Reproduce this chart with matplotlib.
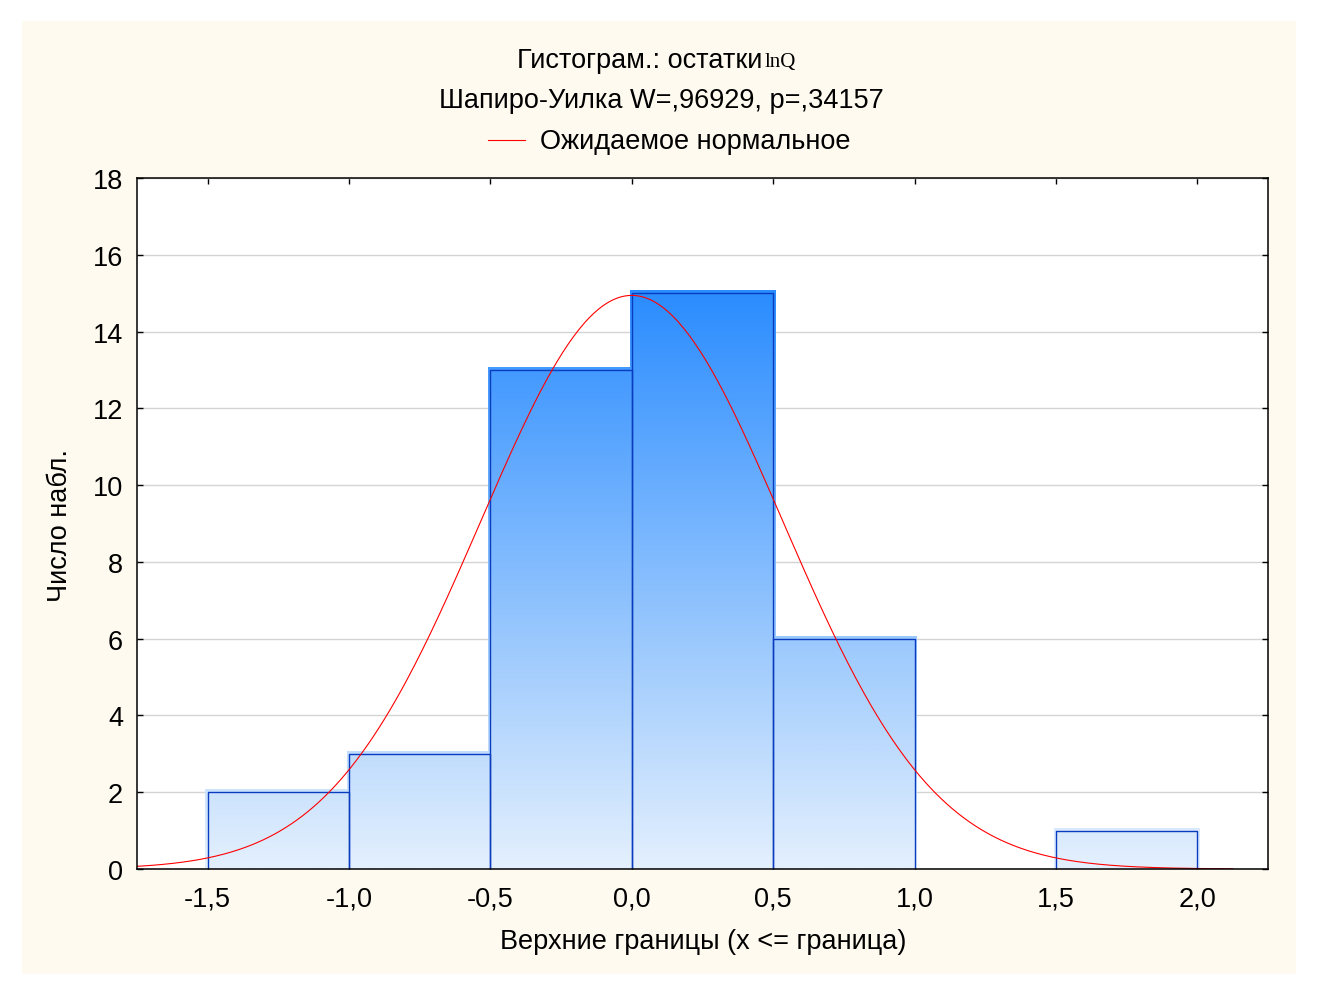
import numpy as np
import matplotlib
matplotlib.use('Agg')
from matplotlib import pyplot as plt
from matplotlib.colors import LinearSegmentedColormap

# upper bin bounds and counts
bin_lefts = [-1.5, -1.0, -0.5, 0.0, 0.5, 1.0, 1.5]
bin_counts = [2, 3, 13, 15, 6, 0, 1]
bin_width = 0.5

# expected normal curve parameters
n_obs = 40
mean_res = 0.0
sd_res = 0.534
curve_start = -1.75
curve_end = 2.125

x_ticks = [-1.5, -1.0, -0.5, 0.0, 0.5, 1.0, 1.5, 2.0]
x_ticklabels = ['-1,5', '-1,0', '-0,5', '0,0', '0,5', '1,0', '1,5', '2,0']
y_ticks = [0, 2, 4, 6, 8, 10, 12, 14, 16, 18]

W, H = 1328, 1004
FS = 19.5
plt.rcParams['font.family'] = ['Liberation Sans', 'DejaVu Sans']

fig = plt.figure(figsize=(W / 100, H / 100), dpi=100, facecolor='white')
# cream panel behind everything
panel = plt.Rectangle((22 / W, 1 - 975 / H), (1296 - 22) / W, (975 - 22) / H,
                      transform=fig.transFigure, facecolor='#fffaf0', edgecolor='none', zorder=-10)
fig.patches.append(panel)

ax = fig.add_axes([137 / W, 1 - 870 / H, (1268 - 137) / W, (870 - 179) / H])
ax.set_facecolor('white')

grad = LinearSegmentedColormap.from_list('bars', ['#e4f0fd', '#2a8cff'])
pad_x = 0.008
pad_y = 0.06
for left, cnt in zip(bin_lefts, bin_counts):
    if cnt == 0:
        continue
    right = left + bin_width
    vals = np.linspace(0, cnt, 256).reshape(-1, 1)
    ax.imshow(vals, cmap=grad, vmin=0, vmax=15, origin='lower', aspect='auto',
              extent=(left - pad_x, right + pad_x, 0, cnt + pad_y), zorder=2,
              interpolation='bilinear')
    ax.plot([left, left, right, right], [0, cnt, cnt, 0], color='#0a3cc0', lw=1.0, zorder=3)

xs = np.linspace(curve_start, curve_end, 400)
ys = n_obs * bin_width / (sd_res * np.sqrt(2 * np.pi)) * np.exp(-0.5 * ((xs - mean_res) / sd_res) ** 2)
ax.plot(xs, ys, color='#ff0000', lw=0.8, zorder=4)

ax.set_xlim(-1.75, 2.25)
ax.set_ylim(0, 18)
ax.set_xticks(x_ticks)
ax.set_xticklabels(x_ticklabels)
ax.set_yticks(y_ticks)
ax.yaxis.grid(True, color='#d4d4d4', lw=1.0, zorder=0)
ax.set_axisbelow(True)
ax.tick_params(direction='in', length=4, width=1, top=True, right=True, labelsize=FS, colors='black')
ax.tick_params(axis='x', pad=12)
ax.tick_params(axis='y', pad=10)
for s in ax.spines.values():
    s.set_linewidth(1.1)
    s.set_zorder(5)

fig.text(703 / W, 1 - 942 / H, 'Верхние границы (x <= граница)', ha='center', va='center', fontsize=FS)
fig.text(60 / W, 1 - 525 / H, 'Число набл.', ha='center', va='center', rotation=90, fontsize=FS)

fig.text(762 / W, 1 - 61 / H, 'Гистограм.: остатки', ha='right', va='center', fontsize=FS)
fig.text(765 / W, 1 - 63 / H, 'lnQ', ha='left', va='center', fontsize=15, family='Liberation Serif')
fig.text(661 / W, 1 - 101 / H, 'Шапиро-Уилка W=,96929, p=,34157', ha='center', va='center', fontsize=FS)
fig.lines.append(plt.Line2D([488 / W, 525 / W], [1 - 141 / H, 1 - 141 / H],
                            transform=fig.transFigure, color='#ff0000', lw=0.8))
fig.text(540 / W, 1 - 142 / H, 'Ожидаемое нормальное', ha='left', va='center', fontsize=FS)

fig.savefig('out.png', dpi=100, facecolor='white')
